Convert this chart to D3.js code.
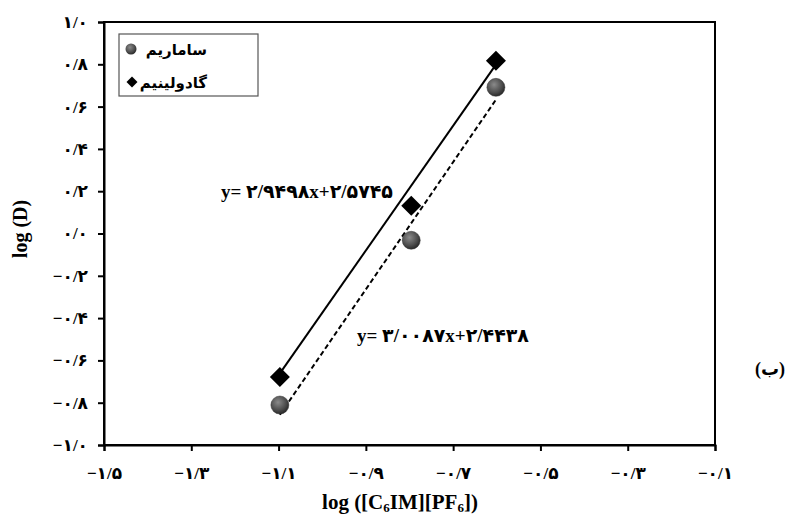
<!DOCTYPE html>
<html>
<head>
<meta charset="utf-8">
<script src="https://cdn.jsdelivr.net/npm/d3@7"></script>
<style>
  body { margin: 0; background: #fff; }
  svg { display: block; }
  text { font-family: "Liberation Serif", "DejaVu Sans", serif; font-weight: bold; }
</style>
</head>
<body>
<svg id="chart" width="789" height="518"></svg>
<script>
// ---- data ----
const xValues = [-1.097, -0.796, -0.602];
const samarium = [-0.811, -0.032, 0.691];
const gadolinium = [-0.678, 0.131, 0.817];
const seriesNames = ["ساماریم", "گادولینیم"];
const gdFit = { slope: 2.9498, intercept: 2.5745, label: "y= ۲/۹۴۹۸x+۲/۵۷۴۵" };
const smFit = { slope: 3.0087, intercept: 2.4438, label: "y= ۳/۰۰۸۷x+۲/۴۴۳۸" };
const xTicks = [-1.5, -1.3, -1.1, -0.9, -0.7, -0.5, -0.3, -0.1];
const xTickLabels = ["−۱/۵", "−۱/۳", "−۱/۱", "−۰/۹", "−۰/۷", "−۰/۵", "−۰/۳", "−۰/۱"];
const yTicks = [1.0, 0.8, 0.6, 0.4, 0.2, 0.0, -0.2, -0.4, -0.6, -0.8, -1.0];
const yTickLabels = ["۱/۰", "۰/۸", "۰/۶", "۰/۴", "۰/۲", "۰/۰", "−۰/۲", "−۰/۴", "−۰/۶", "−۰/۸", "−۱/۰"];
const panelLabel = "(ب)";

const FONT = "\"Liberation Serif\", \"DejaVu Sans\", serif";
const svg = d3.select("#chart");
const L = 104, R = 715, T = 22, B = 445;
const x = d3.scaleLinear().domain([-1.5, -0.1]).range([L, R]);
const y = d3.scaleLinear().domain([-1, 1]).range([B, T]);

// gradient for circles
const defs = svg.append("defs");
const grad = defs.append("radialGradient").attr("id", "ballGrad")
  .attr("cx", "40%").attr("cy", "35%").attr("r", "65%");
grad.append("stop").attr("offset", "0%").attr("stop-color", "#8a8a8a");
grad.append("stop").attr("offset", "70%").attr("stop-color", "#4a4a4a");
grad.append("stop").attr("offset", "100%").attr("stop-color", "#2a2a2a");

// plot frame
svg.append("rect").attr("x", L).attr("y", T).attr("width", R - L).attr("height", B - T)
  .attr("fill", "none").attr("stroke", "#000").attr("stroke-width", 2);

// axes
const xAxis = d3.axisBottom(x).tickValues(xTicks).tickSize(6)
  .tickFormat((d, i) => xTickLabels[i]);
const gx = svg.append("g").attr("transform", `translate(0,${B})`).call(xAxis);
gx.select(".domain").attr("stroke-width", 2);
gx.selectAll(".tick line").attr("stroke-width", 2);
gx.selectAll(".tick text").attr("dy", "0").attr("y", 34).attr("font-size", 17)
  .attr("font-family", FONT).attr("font-weight", "bold").attr("fill", "#000");

const yAxis = d3.axisLeft(y).tickValues(yTicks).tickSize(6)
  .tickFormat((d, i) => yTickLabels[i]);
const gy = svg.append("g").attr("transform", `translate(${L},0)`).call(yAxis);
gy.select(".domain").attr("stroke-width", 2);
gy.selectAll(".tick line").attr("stroke-width", 2);
gy.selectAll(".tick text").attr("x", -16).attr("font-size", 17)
  .attr("font-family", FONT).attr("font-weight", "bold").attr("fill", "#000");

// trend lines
const x0 = xValues[0], x1 = xValues[xValues.length - 1];
svg.append("line")
  .attr("x1", x(x0)).attr("y1", y(gdFit.slope * x0 + gdFit.intercept))
  .attr("x2", x(x1)).attr("y2", y(gdFit.slope * x1 + gdFit.intercept))
  .attr("stroke", "#000").attr("stroke-width", 2);
svg.append("line")
  .attr("x1", x(x0)).attr("y1", y(smFit.slope * x0 + smFit.intercept))
  .attr("x2", x(x1)).attr("y2", y(smFit.slope * x1 + smFit.intercept))
  .attr("stroke", "#000").attr("stroke-width", 2).attr("stroke-dasharray", "5,3");

// markers
const diamond = d3.symbol().type(d3.symbolSquare).size(200);
svg.selectAll("circle.sm").data(xValues).join("circle").attr("class", "sm")
  .attr("cx", d => x(d)).attr("cy", (d, i) => y(samarium[i])).attr("r", 9)
  .attr("fill", "url(#ballGrad)").attr("stroke", "#333").attr("stroke-width", 0.5);
svg.selectAll("path.gd").data(xValues).join("path").attr("class", "gd")
  .attr("d", diamond)
  .attr("transform", (d, i) => `translate(${x(d)},${y(gadolinium[i])}) rotate(45)`)
  .attr("fill", "#000");

// equations
svg.append("text").attr("x", 221).attr("y", 198).attr("font-size", 19).text(gdFit.label);
svg.append("text").attr("x", 357).attr("y", 342).attr("font-size", 19).text(smFit.label);

// legend
svg.append("rect").attr("x", 119).attr("y", 34).attr("width", 139).attr("height", 62)
  .attr("fill", "#fff").attr("stroke", "#555").attr("stroke-width", 1.2);
svg.append("circle").attr("cx", 131).attr("cy", 49).attr("r", 5.5).attr("fill", "url(#ballGrad)");
svg.append("path").attr("d", d3.symbol().type(d3.symbolSquare).size(60))
  .attr("transform", "translate(132,82) rotate(45)").attr("fill", "#000");
svg.append("text").attr("x", 207).attr("y", 55).attr("text-anchor", "end")
  .attr("font-size", 15).text(seriesNames[0]);
svg.append("text").attr("x", 207).attr("y", 88).attr("text-anchor", "end")
  .attr("font-size", 15).text(seriesNames[1]);

// axis titles
svg.append("text").attr("transform", "translate(27,229) rotate(-90)")
  .attr("text-anchor", "middle").attr("font-size", 20).text("log (D)");
const xt = svg.append("text").attr("x", 400).attr("y", 509).attr("text-anchor", "middle").attr("font-size", 21);
xt.append("tspan").text("log ([C");
xt.append("tspan").attr("font-size", 13).attr("dy", 3).text("6");
xt.append("tspan").attr("dy", -3).text("IM][PF");
xt.append("tspan").attr("font-size", 13).attr("dy", 3).text("6");
xt.append("tspan").attr("dy", -3).text("])");

// panel label
svg.append("text").attr("x", 770).attr("y", 375).attr("text-anchor", "middle")
  .attr("font-size", 18).text(panelLabel);
</script>
</body>
</html>
